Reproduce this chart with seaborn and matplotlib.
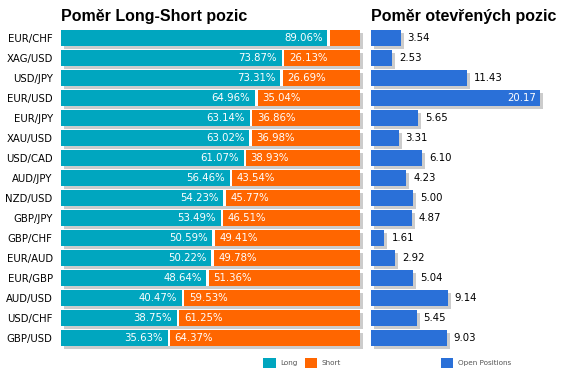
import numpy as np
import pandas as pd
import matplotlib
matplotlib.use('Agg')
import matplotlib.pyplot as plt
import matplotlib.transforms as mtransforms
import seaborn as sns

# Data
pairs = ['EUR/CHF', 'XAG/USD', 'USD/JPY', 'EUR/USD', 'EUR/JPY', 'XAU/USD', 'USD/CAD', 'AUD/JPY',
         'NZD/USD', 'GBP/JPY', 'GBP/CHF', 'EUR/AUD', 'EUR/GBP', 'AUD/USD', 'USD/CHF', 'GBP/USD']
long_pct = [89.06, 73.87, 73.31, 64.96, 63.14, 63.02, 61.07, 56.46,
            54.23, 53.49, 50.59, 50.22, 48.64, 40.47, 38.75, 35.63]
short_pct = [10.94, 26.13, 26.69, 35.04, 36.86, 36.98, 38.93, 43.54,
             45.77, 46.51, 49.41, 49.78, 51.36, 59.53, 61.25, 64.37]
open_pos = [3.54, 2.53, 11.43, 20.17, 5.65, 3.31, 6.10, 4.23,
            5.00, 4.87, 1.61, 2.92, 5.04, 9.14, 5.45, 9.03]

df = pd.DataFrame({'Pair': pairs, 'Long': long_pct, 'Short': short_pct, 'Open': open_pos})
df['Total'] = df['Long'] + df['Short']
df['Gap'] = df['Long'] + 0.8

teal = '#00A6BF'
orange = '#FF6600'
blue = '#2A70D8'
shadow = '#CCCCCC'

sns.set_style('white')
plt.rcParams['font.family'] = ['DejaVu Sans']
plt.rcParams['text.color'] = 'black'
plt.rcParams['ytick.color'] = 'black'

W, H = 565, 380
fig = plt.figure(figsize=(W / 100, H / 100), dpi=100)
ax1 = fig.add_axes([61 / W, 1 - 348 / H, 299 / W, 320 / H])
ax2 = fig.add_axes([371 / W, 1 - 348 / H, 194 / W, 320 / H])

bar_kw = dict(y='Pair', orient='h', saturation=1, width=0.8, errorbar=None, linewidth=0)

# shift a set of patches to make a drop shadow
def add_shadow(ax):
    off = mtransforms.ScaledTranslation(3 / 100, -3 / 100, fig.dpi_scale_trans)
    for p in ax.patches:
        p.set_transform(ax.transData + off)
        p.set_clip_on(False)

# Left panel: long / short ratio
sns.barplot(data=df, x='Total', color=shadow, ax=ax1, **bar_kw)
add_shadow(ax1)
sns.barplot(data=df, x='Total', color=orange, ax=ax1, **bar_kw)
sns.barplot(data=df, x='Gap', color='white', ax=ax1, **bar_kw)
sns.barplot(data=df, x='Long', color=teal, ax=ax1, **bar_kw)
ax1.set_xlim(0, 100)
ax1.set_ylim(15.5, -0.5)

for i, row in df.iterrows():
    ax1.annotate(f"{row['Long']:.2f}%", (row['Long'], i), xytext=(-3.5, 0), textcoords='offset points',
                 ha='right', va='center', color='white', fontsize=7.3)
    if row['Short'] > 12:
        ax1.annotate(f"{row['Short']:.2f}%", (row['Long'], i), xytext=(5, 0), textcoords='offset points',
                     ha='left', va='center', color='white', fontsize=7.3)

# Right panel: open positions
sns.barplot(data=df, x='Open', color=shadow, ax=ax2, **bar_kw)
add_shadow(ax2)
sns.barplot(data=df, x='Open', color=blue, ax=ax2, **bar_kw)
ax2.set_xlim(0, 194 / 8.38)
ax2.set_ylim(15.5, -0.5)

for i, row in df.iterrows():
    if row['Open'] == df['Open'].max():
        ax2.annotate(f"{row['Open']:.2f}", (row['Open'], i), xytext=(-3, 0), textcoords='offset points',
                     ha='right', va='center', color='white', fontsize=7.3)
    else:
        ax2.annotate(f"{row['Open']:.2f}", (row['Open'], i), xytext=(5, 0), textcoords='offset points',
                     ha='left', va='center', color='black', fontsize=7.3)

for ax in (ax1, ax2):
    sns.despine(ax=ax, left=True, bottom=True)
    ax.set_xlabel('')
    ax.set_ylabel('')
    ax.set_xticks([])
    ax.tick_params(axis='y', length=0, pad=6, labelsize=7.3, labelcolor='black')
    ax.set_facecolor('none')
ax2.set_yticklabels([])

fig.text(61 / W, 1 - 16 / H, 'Poměr Long-Short pozic', ha='left', va='center',
         fontsize=11.5, fontweight='bold', family='Liberation Sans', color='black')
fig.text(371 / W, 1 - 16 / H, 'Poměr otevřených pozic', ha='left', va='center',
         fontsize=11.5, fontweight='bold', family='Liberation Sans', color='black')

# Legends
h1 = [ax1.containers[3], ax1.containers[1]]
fig.legend(h1, ['Long', 'Short'], loc='center', bbox_to_anchor=(302 / W, 1 - 363 / H),
           ncol=2, frameon=False, fontsize=5.2, handlelength=1.7, handleheight=1.7,
           handletextpad=0.6, columnspacing=1.0, borderpad=0, labelcolor='#555555')
fig.legend([ax2.containers[1]], ['Open Positions'], loc='center',
           bbox_to_anchor=(476 / W, 1 - 363 / H), frameon=False, fontsize=5.2,
           handlelength=1.7, handleheight=1.7, handletextpad=0.6, borderpad=0,
           labelcolor='#555555')

fig.savefig('out.png', dpi=100)
